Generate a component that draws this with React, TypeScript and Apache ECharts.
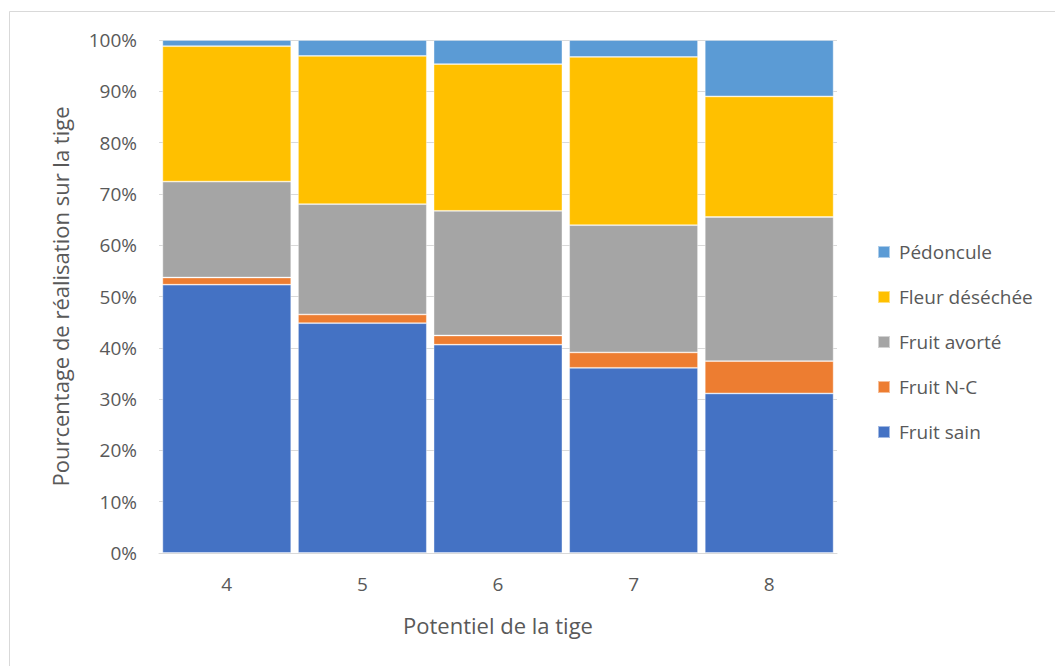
import React, { useEffect, useRef } from "react";
import * as echarts from "echarts";

const categories = ["4", "5", "6", "7", "8"];
const fruitSain = [52.3, 44.8, 40.6, 36.1, 31.1];
const fruitNC = [1.4, 1.7, 1.8, 3.0, 6.3];
const fruitAvorte = [18.7, 21.5, 24.3, 24.8, 28.1];
const fleurDesechee = [26.4, 28.9, 28.6, 32.8, 23.5];
const pedoncule = [1.2, 3.1, 4.7, 3.3, 11.0];
const yTicks = [0, 10, 20, 30, 40, 50, 60, 70, 80, 90, 100];

const FONT = "'Open Sans', sans-serif";
const TXT = "#595959";

export default function App() {
  const ref = useRef<HTMLDivElement>(null);
  useEffect(() => {
    const chart = echarts.init(ref.current!, null, { renderer: "svg" });
    const mk = (name: string, data: number[], color: string) => ({
      name,
      type: "bar",
      stack: "total",
      data,
      barCategoryGap: "5%",
      itemStyle: { color, borderColor: "rgba(255,255,255,0.5)", borderWidth: 0.8 },
    });
    chart.setOption({
      animation: false,
      textStyle: { fontFamily: FONT },
      graphic: [
        {
          type: "rect",
          shape: { x: 9.5, y: 11.5, width: 1060, height: 700 },
          style: { fill: "none", stroke: "#d9d9d9", lineWidth: 1 },
          silent: true,
        },
      ],
      grid: { left: 159, right: 218, top: 40, bottom: 113 },
      legend: {
        orient: "vertical",
        left: 872,
        top: 237,
        itemWidth: 12,
        itemHeight: 12,
        itemGap: 25,
        icon: "rect",
        data: ["Pédoncule", "Fleur déséchée", "Fruit avorté", "Fruit N-C", "Fruit sain"],
        textStyle: { fontFamily: FONT, fontSize: 19, color: TXT, lineHeight: 20, padding: [0, 0, 0, 4] },
      },
      xAxis: {
        type: "category",
        data: categories,
        name: "Potentiel de la tige",
        nameLocation: "middle",
        nameGap: 61,
        nameTextStyle: { fontFamily: FONT, fontSize: 22, color: TXT },
        axisLine: { lineStyle: { color: "#d9d9d9", width: 1 } },
        axisTick: { show: false },
        axisLabel: { fontFamily: FONT, fontSize: 19, color: TXT, margin: 21 },
      },
      yAxis: {
        type: "value",
        min: 0,
        max: 100,
        interval: 10,
        name: "Pourcentage de réalisation sur la tige",
        nameLocation: "middle",
        nameGap: 88,
        nameTextStyle: { fontFamily: FONT, fontSize: 22, color: TXT },
        axisLine: { show: false },
        axisTick: { show: false },
        splitLine: { lineStyle: { color: "#d9d9d9", width: 1 } },
        axisLabel: {
          fontFamily: FONT,
          fontSize: 19,
          color: TXT,
          margin: 22,
          formatter: (v: number) => (yTicks.includes(v) ? v + "%" : ""),
        },
      },
      series: [
        mk("Fruit sain", fruitSain, "#4472C4"),
        mk("Fruit N-C", fruitNC, "#ED7D31"),
        mk("Fruit avorté", fruitAvorte, "#A5A5A5"),
        mk("Fleur déséchée", fleurDesechee, "#FFC000"),
        mk("Pédoncule", pedoncule, "#5B9BD5"),
      ],
    });
    return () => chart.dispose();
  }, []);
  return (
    <div
      ref={ref}
      style={{ position: "fixed", left: 0, top: 0, width: 1055, height: 666, background: "#fff" }}
    />
  );
}
